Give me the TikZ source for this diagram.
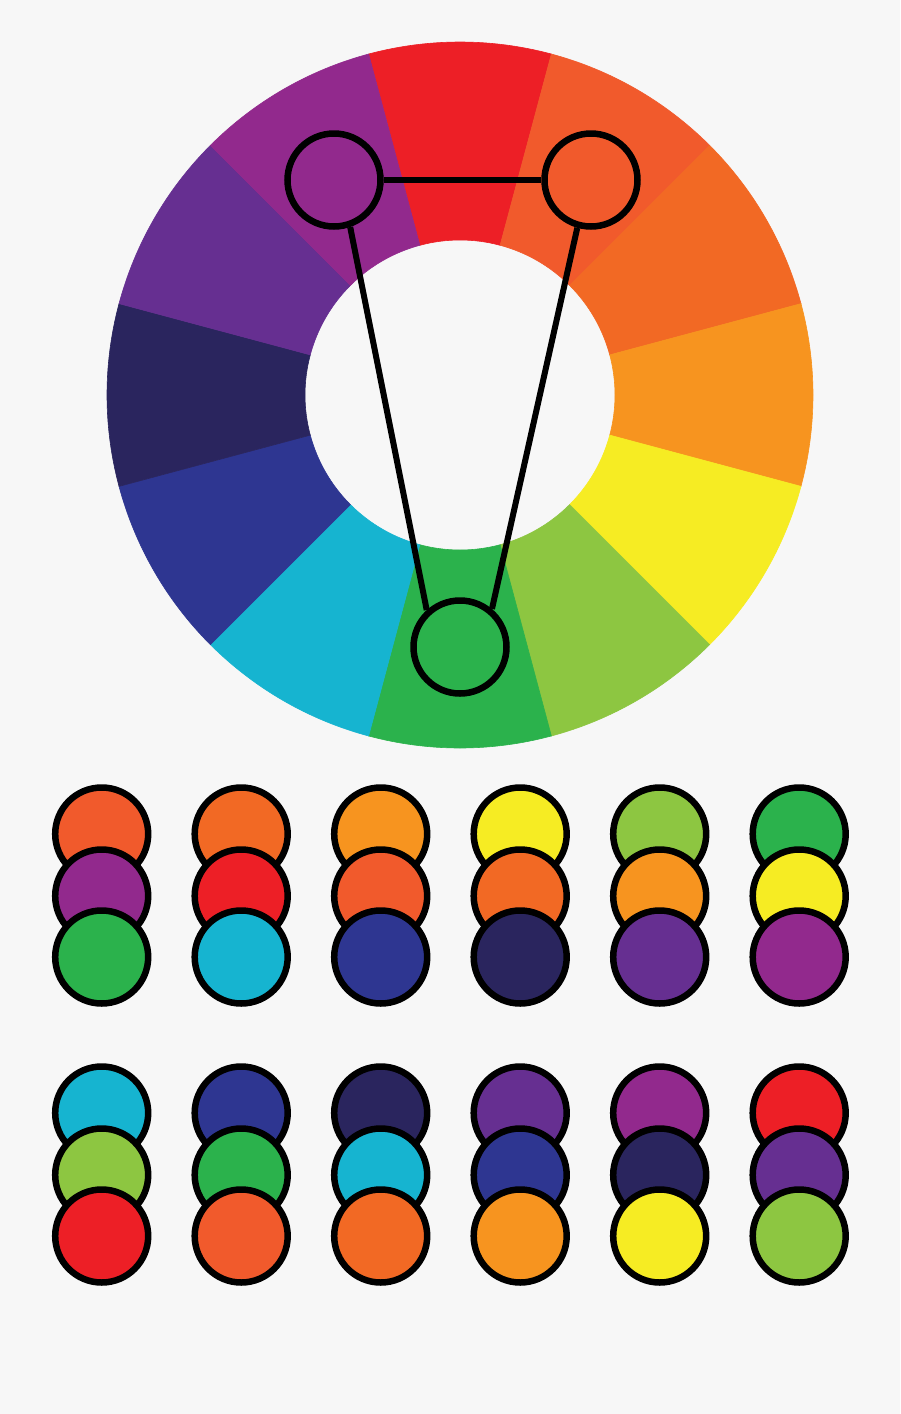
\documentclass[tikz,border=0pt]{standalone}
\definecolor{bgc}{HTML}{F7F7F7}
\definecolor{cR}{HTML}{ED1F26}
\definecolor{cRO}{HTML}{F15A2C}
\definecolor{cO}{HTML}{F26924}
\definecolor{cOY}{HTML}{F7941F}
\definecolor{cY}{HTML}{F6EC23}
\definecolor{cYG}{HTML}{8DC641}
\definecolor{cG}{HTML}{2BB24C}
\definecolor{cC}{HTML}{16B4D0}
\definecolor{cB}{HTML}{2E3691}
\definecolor{cN}{HTML}{2A255E}
\definecolor{cV}{HTML}{662F91}
\definecolor{cP}{HTML}{92298D}
\begin{document}
\begin{tikzpicture}[x=1pt,y=1pt,
  dot/.style={circle,draw=black,line width=6.5pt,minimum size=93pt,inner sep=0pt},
  link/.style={draw=black,line width=6pt}]
\useasboundingbox (0,0) rectangle (900,-1414);
\fill[bgc] (0,0) rectangle (900,-1414);
% colour wheel
\begin{scope}[shift={(460,-395)}]
\foreach \a/\c in {90/cR,60/cRO,30/cO,0/cOY,-30/cY,-60/cYG,-90/cG,-120/cC,-150/cB,180/cN,150/cV,120/cP}{
  \filldraw[fill=\c,draw=\c,line width=0.6pt] (\a-15:155) -- (\a-15:353)
    arc[start angle=\a-15,end angle=\a+15,radius=353] -- (\a+15:155)
    arc[start angle=\a+15,end angle=\a-15,radius=155] -- cycle;
}
\end{scope}
% triad markers
\node[dot,fill=cP] (p) at (334,-180) {};
\node[dot,fill=cRO] (o) at (591,-180) {};
\node[dot,fill=cG] (g) at (460,-647) {};
\draw[link] (p.east) -- (o.west);
\draw[link] (p.-71) -- (g.132);
\draw[link] (o.-106) -- (g.50);
% first group of swatches
\foreach \i/\ca/\cb/\cc in {1/cRO/cP/cG,2/cO/cR/cC,3/cOY/cRO/cB,4/cY/cO/cN,5/cYG/cOY/cV,6/cG/cY/cP}{
  \node[dot,fill=\ca] (a\i) at ({101.7+139.5*(\i-1)},-834) {};
  \node[dot,fill=\cb] (b\i) at ({101.7+139.5*(\i-1)},-896) {};
  \node[dot,fill=\cc] (c\i) at ({101.7+139.5*(\i-1)},-957) {};
}
% second group of swatches
\foreach \i/\ca/\cb/\cc in {1/cC/cYG/cR,2/cB/cG/cRO,3/cN/cC/cO,4/cV/cB/cOY,5/cP/cN/cY,6/cR/cV/cYG}{
  \node[dot,fill=\ca] (d\i) at ({101.7+139.5*(\i-1)},-1113) {};
  \node[dot,fill=\cb] (e\i) at ({101.7+139.5*(\i-1)},-1175) {};
  \node[dot,fill=\cc] (f\i) at ({101.7+139.5*(\i-1)},-1236) {};
}
\end{tikzpicture}
\end{document}
